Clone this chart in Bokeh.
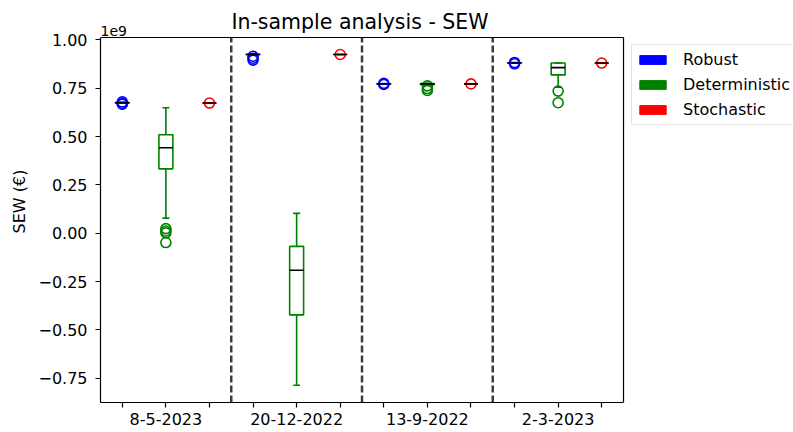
from bokeh.plotting import figure
from bokeh.models import (ColumnDataSource, Legend, LegendItem, Label,
                          FixedTicker, CustomJSTickFormatter, Range1d)
from bokeh.embed import file_html
from bokeh.resources import INLINE

SCALE = 1e9  # values below are in units of 1e9 EUR

title_text = "In-sample analysis - SEW"
offset_text = "1e9"
dates = ["8-5-2023", "20-12-2022", "13-9-2022", "2-3-2023"]
methods = ["Robust", "Deterministic", "Stochastic"]
colors = ["blue", "green", "red"]

# box statistics per date: whisker_lo, q1, median, q3, whisker_hi
robust_lo = [0.673, 0.924, 0.771, 0.879]
robust_q1 = [0.674, 0.924, 0.772, 0.880]
robust_med = [0.675, 0.924, 0.772, 0.880]
robust_q3 = [0.676, 0.925, 0.773, 0.881]
robust_hi = [0.677, 0.925, 0.774, 0.882]
robust_fliers = [[0.679, 0.670, 0.667], [0.915, 0.905, 0.895], [0.775, 0.769], [0.883, 0.876]]

determ_lo = [0.078, -0.786, 0.764, 0.755]
determ_q1 = [0.333, -0.422, 0.768, 0.819]
determ_med = [0.442, -0.191, 0.772, 0.856]
determ_q3 = [0.509, -0.068, 0.774, 0.880]
determ_hi = [0.649, 0.103, 0.775, 0.880]
determ_fliers = [[0.024, 0.012, 0.002, -0.048], [], [0.762, 0.748, 0.738], [0.735, 0.675]]

stoch_lo = [0.673, 0.924, 0.772, 0.880]
stoch_q1 = [0.673, 0.924, 0.772, 0.880]
stoch_med = [0.673, 0.924, 0.772, 0.880]
stoch_q3 = [0.673, 0.924, 0.772, 0.880]
stoch_hi = [0.673, 0.924, 0.772, 0.880]
stoch_fliers = [[0.673], [0.924], [0.772], [0.880]]

dividers = [3.5, 6.5, 9.5]

stats = [
    (robust_lo, robust_q1, robust_med, robust_q3, robust_hi, robust_fliers),
    (determ_lo, determ_q1, determ_med, determ_q3, determ_hi, determ_fliers),
    (stoch_lo, stoch_q1, stoch_med, stoch_q3, stoch_hi, stoch_fliers),
]

BOX_W = 0.32
CAP_W = 0.16
LW = 1.6
FONT = "DejaVu Sans"

# boxed axes area (data) and the larger view, so that title, offset text
# and legend lie inside the drawing frame
X0, X1 = 0.5, 12.5
Y0, Y1 = -0.875 * SCALE, 1.012 * SCALE
BOX_H_PX = 365.0               # pixel height of the boxed area
BOX_TOP_PX = 37.0              # pixels of frame above the boxed area
PER_PX = (Y1 - Y0) / BOX_H_PX
X_VIEW_END = 16.4
Y_VIEW_END = Y1 + BOX_TOP_PX * PER_PX

p = figure(width=793, height=432, x_range=Range1d(X0, X_VIEW_END),
           y_range=Range1d(Y0, Y_VIEW_END),
           output_backend="svg", toolbar_location=None, title=None,
           min_border_left=100, min_border_right=0,
           min_border_top=0, min_border_bottom=30)

p.xgrid.visible = False
p.ygrid.visible = False
p.outline_line_color = None
p.background_fill_color = "white"
p.border_fill_color = "white"

legend_items = []
for m, (lo, q1, med, q3, hi, fl) in enumerate(stats):
    col = colors[m]
    xs = [3 * g + m + 1 for g in range(len(dates))]
    src = ColumnDataSource(dict(
        x=xs,
        left=[x - BOX_W / 2 for x in xs], right=[x + BOX_W / 2 for x in xs],
        cl=[x - CAP_W / 2 for x in xs], cr=[x + CAP_W / 2 for x in xs],
        lo=[v * SCALE for v in lo], q1=[v * SCALE for v in q1],
        med=[v * SCALE for v in med], q3=[v * SCALE for v in q3],
        hi=[v * SCALE for v in hi],
    ))
    p.segment(x0="x", y0="lo", x1="x", y1="q1", source=src, line_color=col, line_width=LW)
    p.segment(x0="x", y0="q3", x1="x", y1="hi", source=src, line_color=col, line_width=LW)
    p.segment(x0="cl", y0="lo", x1="cr", y1="lo", source=src, line_color=col, line_width=LW)
    p.segment(x0="cl", y0="hi", x1="cr", y1="hi", source=src, line_color=col, line_width=LW)
    p.quad(left="left", right="right", bottom="q1", top="q3", source=src,
           fill_alpha=0, line_color=col, line_width=LW)
    fx, fy = [], []
    for g in range(len(dates)):
        for v in fl[g]:
            fx.append(3 * g + m + 1)
            fy.append(v * SCALE)
    fsrc = ColumnDataSource(dict(x=fx, y=fy))
    p.scatter(x="x", y="y", source=fsrc, marker="circle", size=10,
              fill_alpha=0, line_color=col, line_width=LW)
    p.segment(x0="left", y0="med", x1="right", y1="med", source=src,
              line_color="black", line_width=LW)
    # hidden filled proxy of the boxes, used only for the legend patch
    proxy = p.quad(left="left", right="right", bottom="q1", top="q3", source=src,
                   fill_color=col, line_color=col, visible=False)
    legend_items.append(LegendItem(label=methods[m], renderers=[proxy]))

# dashed dividers between dates, limited to the boxed area
div_src = ColumnDataSource(dict(x=dividers, y0=[Y0] * len(dividers), y1=[Y1] * len(dividers)))
p.segment(x0="x", y0="y0", x1="x", y1="y1", source=div_src, line_color="#3c3c3c",
          line_width=2.5, line_dash="7 3")

# top and right spines of the boxed area
spine_src = ColumnDataSource(dict(xa=[X0, X1], ya=[Y1, Y0], xb=[X1, X1], yb=[Y1, Y1]))
p.segment(x0="xa", y0="yb", x1="xb", y1="yb", source=spine_src,
          line_color="black", line_width=1.2)
p.segment(x0="xb", y0="ya", x1="xb", y1="yb", source=spine_src,
          line_color="black", line_width=1.2)

# bottom axis
xticks = list(range(1, 13))
p.xaxis.ticker = FixedTicker(ticks=xticks)
p.xaxis.bounds = (X0, X1)
overrides = {t: "" for t in xticks}
for g, d in enumerate(dates):
    overrides[3 * g + 2] = d
p.xaxis.major_label_overrides = overrides

# left axis
yticks = [-0.75, -0.5, -0.25, 0.0, 0.25, 0.5, 0.75, 1.0]
p.yaxis.ticker = FixedTicker(ticks=[t * SCALE for t in yticks])
p.yaxis.bounds = (Y0, Y1)
p.yaxis.formatter = CustomJSTickFormatter(
    code="return (tick/1e9).toFixed(2).replace('-', '\\u2212');")

for ax in [p.xaxis[0], p.yaxis[0]]:
    ax.axis_line_color = "black"
    ax.axis_line_width = 1.2
    ax.major_tick_line_color = "black"
    ax.major_tick_line_width = 1.2
    ax.major_tick_in = 0
    ax.major_tick_out = 5
    ax.minor_tick_line_color = None
    ax.major_label_text_font = FONT
    ax.major_label_text_font_size = "16px"
    ax.major_label_text_color = "black"

p.xaxis.major_label_standoff = 5
p.yaxis.major_label_standoff = 8
p.yaxis.axis_label = "SEW (€)"
p.yaxis.axis_label_text_font = FONT
p.yaxis.axis_label_text_font_size = "16px"
p.yaxis.axis_label_text_font_style = "normal"
p.yaxis.axis_label_text_color = "black"
p.yaxis.axis_label_standoff = 6

# offset text and title, placed above the boxed area
p.add_layout(Label(x=X0, y=Y1 + 7.0 * PER_PX, text=offset_text, text_font=FONT,
                   text_font_size="14px", text_align="left",
                   text_baseline="alphabetic", text_color="black"))
p.add_layout(Label(x=(X0 + X1) / 2, y=Y1 + 15.5 * PER_PX, x_offset=-2, text=title_text,
                   text_font=FONT, text_font_size="20.5px", text_align="center",
                   text_baseline="alphabetic", text_color="black"))

legend = Legend(items=legend_items, location=(531, 277), orientation="vertical",
                glyph_width=33, glyph_height=11, label_standoff=14, padding=4,
                spacing=4, label_height=21, label_text_font=FONT,
                label_text_font_size="16px", label_text_color="black",
                border_line_color="#cccccc", border_line_width=1,
                background_fill_alpha=0.8, margin=0)
p.add_layout(legend, "center")

open("out.html", "w").write(file_html(p, INLINE))
